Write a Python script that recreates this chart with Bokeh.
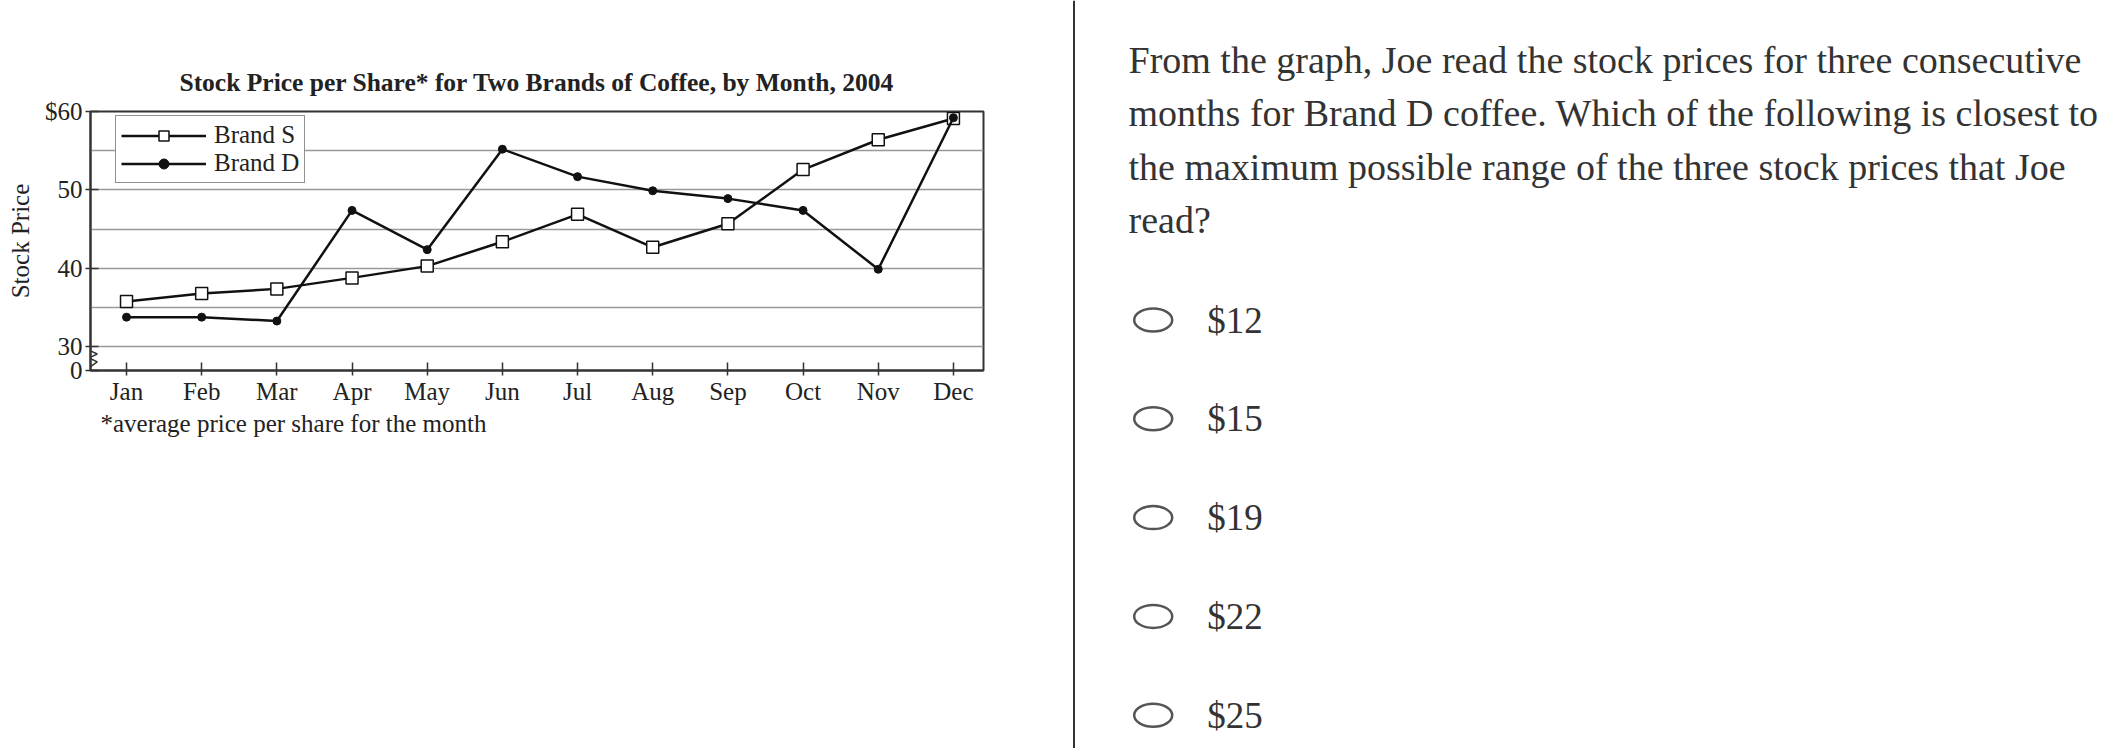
from bokeh.plotting import figure
from bokeh.models import Range1d, FixedTicker, Legend, LegendItem, Span, Title
from bokeh.layouts import row, column
from bokeh.core.properties import value
from bokeh.embed import file_html
from bokeh.resources import INLINE

# ---------------- data ----------------
months = ["Jan", "Feb", "Mar", "Apr", "May", "Jun", "Jul", "Aug", "Sep", "Oct", "Nov", "Dec"]
brand_s = [35.8, 36.8, 37.4, 38.8, 40.3, 43.4, 46.9, 42.7, 45.7, 52.6, 56.4, 59.1]
brand_d = [33.8, 33.8, 33.3, 47.4, 42.4, 55.2, 51.7, 49.9, 48.9, 47.4, 39.9, 59.2]
y_tick_values = [27, 30, 40, 50, 60]
y_tick_labels = ["0", "30", "40", "50", "$60"]
grid_values = [30, 35, 40, 45, 50, 55]

title_text = "Stock Price per Share* for Two Brands of Coffee, by Month, 2004"
y_label = "Stock Price"
footnote = "*average price per share for the month"

question_lines = [
    "From the graph, Joe read the stock prices for three consecutive",
    "months for Brand D coffee. Which of the following is closest to",
    "the maximum possible range of the three stock prices that Joe",
    "read?",
]
options = ["$12", "$15", "$19", "$22", "$25"]

SERIF = "Liberation Serif"
INK = "#222222"
x_idx = list(range(len(months)))

# ---------------- chart ----------------
Y_START, Y_END = 27, 60
H = 748
p1 = figure(width=1072, height=H, output_backend="svg", toolbar_location=None,
            x_range=Range1d(-0.479, len(months) - 1 + 0.40),
            y_range=Range1d(Y_START, Y_END),
            min_border_left=90, min_border_right=89, min_border_top=111,
            min_border_bottom=H - 370)
p1.background_fill_color = "white"
p1.border_fill_color = "white"
p1.outline_line_color = "#333333"
p1.outline_line_width = 2

p1.title.text = title_text
p1.title.align = "center"
p1.title.text_font = SERIF
p1.title.text_font_style = "bold"
p1.title.text_font_size = "25.5px"
p1.title.text_color = INK
p1.title.standoff = 30

# grid
p1.xgrid.visible = False
p1.ygrid.ticker = FixedTicker(ticks=grid_values)
p1.ygrid.grid_line_color = "#999999"
p1.ygrid.grid_line_width = 1.5

# x axis
xa = p1.xaxis[0]
xa.ticker = FixedTicker(ticks=x_idx)
xa.major_label_overrides = {i: m for i, m in enumerate(months)}
xa.minor_tick_line_color = None
xa.major_tick_in = 8
xa.major_tick_out = 5
xa.major_tick_line_width = 1.5
xa.major_tick_line_color = "#333333"
xa.axis_line_color = "#333333"
xa.axis_line_width = 2
xa.major_label_text_font = SERIF
xa.major_label_text_font_size = "25px"
xa.major_label_text_color = INK
xa.major_label_standoff = 2

# footnote under the axis
note = Title(text=footnote, align="left", offset=10, standoff=0,
             text_font=SERIF, text_font_style="normal", text_font_size="25px",
             text_color=INK)
p1.add_layout(note, "below")

# y axis
ya = p1.yaxis[0]
ya.ticker = FixedTicker(ticks=y_tick_values)
ya.major_label_overrides = {v: t for v, t in zip(y_tick_values, y_tick_labels)}
ya.minor_tick_line_color = None
ya.major_tick_in = 8
ya.major_tick_out = 5
ya.major_tick_line_width = 1.5
ya.major_tick_line_color = "#333333"
ya.axis_line_color = "#333333"
ya.axis_line_width = 2
ya.major_label_text_font = SERIF
ya.major_label_text_font_size = "25px"
ya.major_label_text_color = INK
ya.major_label_standoff = 3
ya.axis_label = y_label
ya.axis_label_text_font = SERIF
ya.axis_label_text_font_style = "normal"
ya.axis_label_text_font_size = "25px"
ya.axis_label_text_color = INK
ya.axis_label_standoff = 8

# axis break zigzag
x0 = p1.x_range.start
zz_x = [x0, x0 + 0.09, x0 - 0.02, x0 + 0.09, x0]
zz_y = [30 - 0.5, 30 - 0.9, 30 - 1.4, 30 - 1.9, Y_START + 0.5]
p1.line(zz_x, zz_y, line_color="#333333", line_width=1.5)

# series
ls = p1.line(x_idx, brand_s, line_color="#111111", line_width=2.5)
ms = p1.scatter(x_idx, brand_s, marker="square", size=12, fill_color="white",
                line_color="#111111", line_width=1.5)
ld = p1.line(x_idx, brand_d, line_color="#111111", line_width=2.5)
md = p1.scatter(x_idx, brand_d, marker="circle", size=8, fill_color="#111111",
                line_color="#111111")

legend = Legend(items=[LegendItem(label="Brand S", renderers=[ls, ms]),
                       LegendItem(label="Brand D", renderers=[ld, md])],
                location=(25, 187), orientation="vertical")
legend.glyph_width = 85
legend.glyph_height = 25
legend.label_height = 25
legend.label_standoff = 8
legend.spacing = 0
legend.padding = 5
legend.margin = 0
legend.label_text_font = SERIF
legend.label_text_font_size = "25px"
legend.label_text_color = INK
legend.border_line_color = "#222222"
legend.border_line_width = 1.5
legend.background_fill_color = "white"
legend.background_fill_alpha = 1.0
p1.add_layout(legend)

# ---------------- question panel ----------------
W2 = 1031
p2 = figure(width=W2, height=H, output_backend="svg", toolbar_location=None,
            x_range=Range1d(0, W2), y_range=Range1d(H, 0),
            x_axis_location=None, y_axis_location=None,
            min_border=0, min_border_left=0, min_border_right=0,
            min_border_top=0, min_border_bottom=0)
p2.grid.visible = False
p2.outline_line_color = None
p2.background_fill_color = "white"
p2.border_fill_color = "white"

p2.add_layout(Span(location=1.5, dimension="height", line_color="#333333", line_width=2))

q_y0, q_step = 59.5, 53.3
p2.text(x=[56] * len(question_lines),
        y=[q_y0 + i * q_step for i in range(len(question_lines))],
        text=question_lines, text_font=value(SERIF), text_font_size="38px",
        text_color="#333333", text_baseline="alphabetic", text_align="left")

o_y0, o_step = 319.5, 98.8
o_y = [o_y0 + i * o_step for i in range(len(options))]
p2.ellipse(x=[80.7] * len(options), y=o_y, width=38, height=23,
           fill_color=None, line_color="#555555", line_width=2.5)
p2.text(x=[134.7] * len(options), y=[v + 0 for v in o_y], text=options,
        text_font=value(SERIF), text_font_size="37px", text_color="#333333",
        text_baseline="alphabetic", text_align="left")

layout = row(column(p1), column(p2))
open("out.html", "w").write(file_html(layout, INLINE))
